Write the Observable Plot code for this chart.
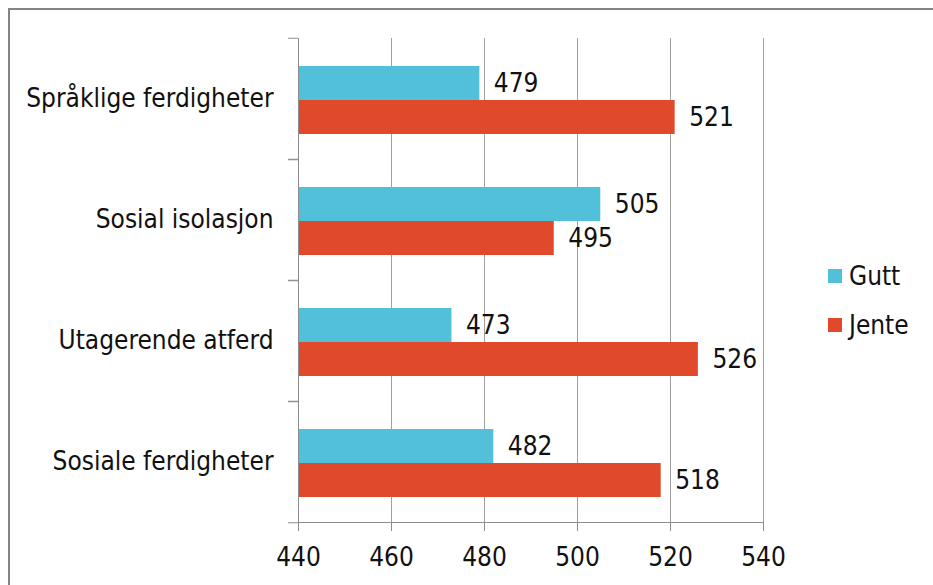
<!DOCTYPE html>
<html><head><meta charset="utf-8">
<script src="https://cdn.jsdelivr.net/npm/d3@7"></script>
<script src="https://cdn.jsdelivr.net/npm/@observablehq/plot@0.6"></script>
<style>
html,body{margin:0;padding:0;background:#fff;overflow:hidden;width:933px;height:585px;}
#frame{position:absolute;left:8px;top:8px;width:1200px;height:1000px;border:2px solid #848484;box-sizing:border-box;}
#chart{position:absolute;left:0;top:0;}
#legend{position:absolute;left:0;top:0;font-family:'DejaVu Sans Condensed','DejaVu Sans',sans-serif;font-size:26px;color:#111;}
.item{position:absolute;left:828px;height:30px;display:flex;align-items:center;white-space:nowrap;}
.sw{width:14px;height:14px;margin-right:7px;}
</style></head><body>
<div id="frame"></div><div id="chart"></div><div id="legend"></div>
<script>
const categories = ["Språklige ferdigheter","Sosial isolasjon","Utagerende atferd","Sosiale ferdigheter"];
const series = ["Gutt","Jente"];
const gutt = [479,505,473,482];
const jente = [521,495,526,518];
const xTicks = [440,460,480,500,520,540];
const colors = ["#52c0d8","#e04a2b"];

const rows = categories.flatMap((c,i)=>[
  {category:c, series:series[0], value:gutt[i]},
  {category:c, series:series[1], value:jente[i]}
]);

const W=933,H=585,mT=37,mB=62,mL=298,mR=170;
const bw=(H-mT-mB)/categories.length;
const font="'DejaVu Sans Condensed','DejaVu Sans',sans-serif";
const axisColor="#8c8c8c";
const fs=26;

const plot = Plot.plot({
  width:W, height:H, marginTop:mT, marginBottom:mB, marginLeft:mL, marginRight:mR,
  style:{fontFamily:font, fontSize:fs+"px", color:"#111", background:"transparent", overflow:"visible"},
  x:{domain:[xTicks[0], xTicks[xTicks.length-1]]},
  fy:{domain:categories, padding:0},
  y:{domain:series, paddingInner:0, paddingOuter:0.77, align:0.52, axis:null},
  color:{domain:series, range:colors},
  marks:[
    Plot.gridX(xTicks, {stroke:"#a0a0a0", strokeOpacity:1}),
    Plot.barX(rows, {fy:"category", y:"series", x1:xTicks[0], x2:"value", fill:"series"}),
    Plot.frame({anchor:"left", stroke:axisColor}),
    Plot.frame({anchor:"bottom", facetAnchor:"bottom", stroke:axisColor}),
    Plot.axisFy({anchor:"left", tickSize:0, tickPadding:25, label:null, fontSize:fs, fill:"#111"}),
    Plot.axisFy({anchor:"left", tickSize:10, tickFormat:()=>"", label:null, dy:-bw/2, stroke:axisColor}),
    Plot.axisFy({anchor:"left", tickSize:10, tickFormat:()=>"", label:null, dy:bw/2, stroke:axisColor}),
    Plot.axisX({ticks:xTicks, tickSize:9, tickPadding:16, fontSize:fs, label:null, stroke:axisColor, fill:"#111"}),
    Plot.text(rows, {fy:"category", y:"series", x:"value", text:d=>String(d.value), textAnchor:"start", dx:14, fontSize:fs, fill:"#111"})
  ]
});
document.getElementById("chart").appendChild(plot);

const legend=document.getElementById("legend");
const legendTops=[261,310];
series.forEach((s,i)=>{
  const it=document.createElement("div");
  it.className="item";
  it.style.top=legendTops[i]+"px";
  it.innerHTML=`<span class="sw" style="background:${colors[i]}"></span><span>${s}</span>`;
  legend.appendChild(it);
});
</script>
</body></html>
